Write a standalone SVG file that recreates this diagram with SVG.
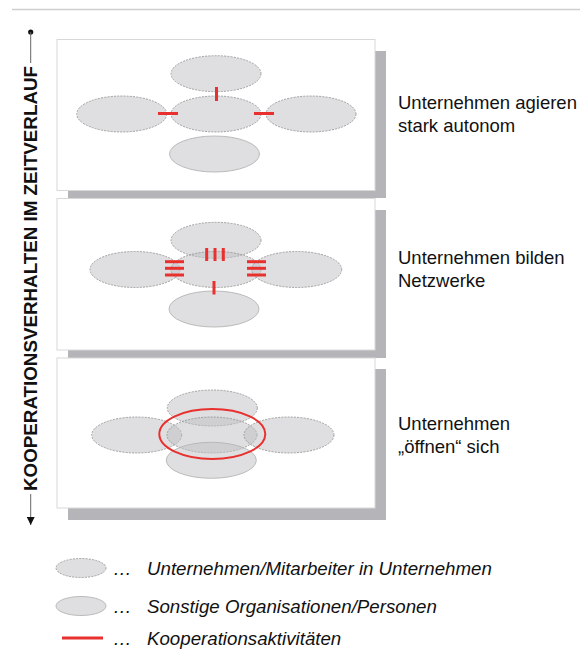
<svg xmlns="http://www.w3.org/2000/svg" width="580" height="656" viewBox="0 0 580 656">
<style>
  .panel { fill: #ffffff; stroke: #d8d8d8; stroke-width: 1; }
  .shadow { fill: #b5b5b9; }
  .org { fill: #c0c0c4; fill-opacity: 0.5; stroke: #8f8f8f; stroke-width: 0.8; stroke-dasharray: 2 1.2; }
  .oth { fill: #c0c0c4; fill-opacity: 0.5; stroke: #b4b4b4; stroke-width: 0.9; }
  .coop { stroke: #e8302e; stroke-width: 3; fill: none; }
  .lbl { font-family: "Liberation Sans", Arial, sans-serif; font-size: 18.5px; fill: #111; }
  .leg { font-family: "Liberation Sans", Arial, sans-serif; font-size: 18.7px; font-style: italic; fill: #111; }
  .axis { font-family: "Liberation Sans", Arial, sans-serif; font-size: 18.8px; font-weight: bold; fill: #111; }
</style>
<defs>
  <marker id="arr" viewBox="0 0 10 10" refX="10" refY="5" markerWidth="8" markerHeight="8" markerUnits="userSpaceOnUse" orient="auto">
    <path d="M0,0 L10,5 L0,10 Z" fill="#111"/>
  </marker>
</defs>
<rect width="580" height="656" fill="#ffffff"/>
<line x1="12" y1="9.5" x2="580" y2="9.5" stroke="#cfcfcf" stroke-width="1.5"/>

<g id="axis">
  <circle cx="30.7" cy="32" r="2.6" fill="#111"/>
  <line x1="30.7" y1="32" x2="30.7" y2="63" stroke="#666" stroke-width="1"/>
  <line x1="30.7" y1="494" x2="30.7" y2="525" stroke="#666" stroke-width="1" marker-end="url(#arr)"/>
  <text class="axis" transform="translate(37,278.5) rotate(-90)" text-anchor="middle">KOOPERATIONSVERHALTEN IM ZEITVERLAUF</text>
</g>

<g id="panel1">
  <rect class="shadow" x="68" y="51" width="318" height="147"/>
  <rect class="panel" x="57" y="39.5" width="318" height="151"/>
  <ellipse class="org" cx="216" cy="73.7" rx="45" ry="18"/>
  <ellipse class="org" cx="121.7" cy="114" rx="45" ry="18"/>
  <ellipse class="org" cx="216" cy="114" rx="45" ry="18"/>
  <ellipse class="org" cx="311" cy="114" rx="45" ry="18"/>
  <ellipse class="oth" cx="214.5" cy="154" rx="45" ry="18"/>
  <text class="lbl" x="398" y="109">Unternehmen agieren</text>
  <text class="lbl" x="398" y="131.5">stark autonom</text>
</g>

<g id="panel2">
  <rect class="shadow" x="68" y="210" width="318" height="148"/>
  <rect class="panel" x="57" y="198.5" width="318" height="151.5"/>
  <ellipse class="org" cx="216" cy="240.3" rx="45" ry="18"/>
  <ellipse class="org" cx="135" cy="269.5" rx="45" ry="18"/>
  <ellipse class="org" cx="216" cy="269.5" rx="45" ry="18"/>
  <ellipse class="org" cx="296.7" cy="269.5" rx="45" ry="18"/>
  <ellipse class="oth" cx="214" cy="309" rx="45" ry="18"/>
  <text class="lbl" x="398" y="264">Unternehmen bilden</text>
  <text class="lbl" x="398" y="287">Netzwerke</text>
</g>

<g id="panel3">
  <rect class="shadow" x="68" y="369" width="318" height="151"/>
  <rect class="panel" x="57" y="358" width="318" height="150"/>
  <ellipse class="org" cx="212.3" cy="408" rx="45" ry="18"/>
  <ellipse class="org" cx="136.7" cy="435" rx="45" ry="18"/>
  <ellipse class="org" cx="212" cy="435" rx="45" ry="18"/>
  <ellipse class="org" cx="289" cy="435" rx="45" ry="18"/>
  <ellipse class="oth" cx="211.3" cy="460.3" rx="45" ry="18"/>
  <text class="lbl" x="398" y="430">Unternehmen</text>
  <text class="lbl" x="398" y="453">„öffnen“ sich</text>
</g>

<g id="connectors">
  <line class="coop" x1="216.5" y1="87" x2="216.5" y2="101"/>
  <line class="coop" x1="158" y1="113.5" x2="178" y2="113.5"/>
  <line class="coop" x1="254" y1="113.5" x2="274" y2="113.5"/>

  <line class="coop" x1="206.7" y1="248" x2="206.7" y2="261"/>
  <line class="coop" x1="215" y1="248" x2="215" y2="261"/>
  <line class="coop" x1="223.3" y1="248" x2="223.3" y2="261"/>
  <line class="coop" x1="165" y1="261.7" x2="184" y2="261.7"/>
  <line class="coop" x1="165" y1="268.3" x2="184" y2="268.3"/>
  <line class="coop" x1="165" y1="275" x2="184" y2="275"/>
  <line class="coop" x1="247" y1="261.7" x2="266" y2="261.7"/>
  <line class="coop" x1="247" y1="268.3" x2="266" y2="268.3"/>
  <line class="coop" x1="247" y1="275" x2="266" y2="275"/>
  <line class="coop" x1="214" y1="281" x2="214" y2="294.5"/>

  <ellipse class="coop" cx="212.3" cy="434" rx="53" ry="25" style="stroke-width:2"/>
</g>

<g id="legend">
  <ellipse class="org" cx="81" cy="568" rx="25" ry="9.5"/>
  <text class="leg" x="113" y="574.5">…</text>
  <text class="leg" x="147" y="574.5">Unternehmen/Mitarbeiter in Unternehmen</text>
  <ellipse class="oth" cx="81" cy="606" rx="25" ry="9.5"/>
  <text class="leg" x="113" y="612.5">…</text>
  <text class="leg" x="147" y="612.5">Sonstige Organisationen/Personen</text>
  <line class="coop" x1="62" y1="638" x2="103" y2="638"/>
  <text class="leg" x="113" y="645">…</text>
  <text class="leg" x="147" y="645">Kooperationsaktivitäten</text>
</g>
</svg>
